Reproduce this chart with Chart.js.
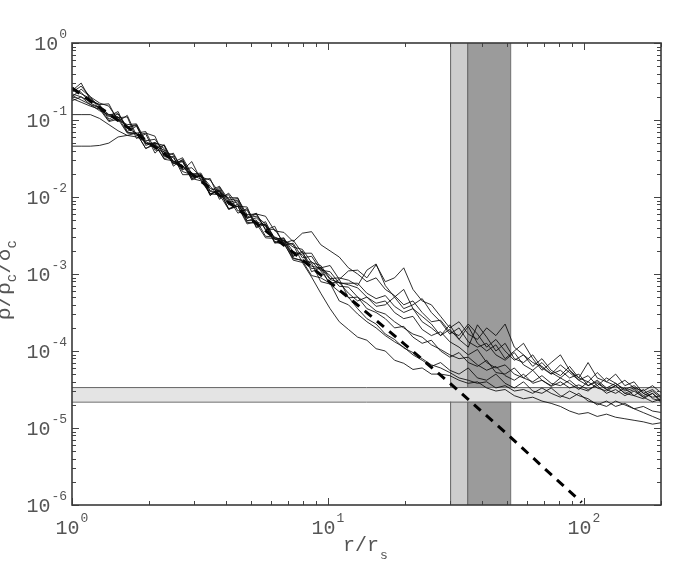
<!DOCTYPE html>
<html>
<head>
<meta charset="utf-8">
<script src="https://cdn.jsdelivr.net/npm/chart.js@4.4.1/dist/chart.umd.min.js"></script>
<style>
  html, body { margin: 0; padding: 0; background: #fff; }
  canvas { display: block; }
</style>
</head>
<body>
<canvas id="chart" width="691" height="571"></canvas>
<script>
// radius grid r/r_s shared by all profiles
const rGrid = [
  1.00, 1.086, 1.180, 1.282, 1.393, 1.514, 1.644, 1.786, 1.941, 2.109,
  2.291, 2.489, 2.704, 2.938, 3.192, 3.467, 3.767, 4.093, 4.446, 4.831,
  5.248, 5.702, 6.194, 6.730, 7.311, 7.943, 8.630, 9.376, 10.19, 11.07,
  12.02, 13.06, 14.19, 15.42, 16.75, 18.20, 19.77, 21.48, 23.33, 25.35,
  27.54, 29.92, 32.51, 35.32, 38.37, 41.69, 45.29, 49.20, 53.46, 58.08,
  63.10, 68.55, 74.47, 80.91, 87.90, 95.50, 103.8, 112.7, 122.5, 133.0,
  144.5, 157.0, 170.6, 185.4, 201.4
];

// log10 of rho/rho_c/delta_c
const logRhoA = [
  -0.62, -0.52, -0.74, -0.80, -0.79, -1.02, -0.94, -1.20, -1.17, -1.21,
  -1.48, -1.43, -1.65, -1.54, -1.78, -1.76, -2.03, -1.95, -2.10, -2.26,
  -2.21, -2.42, -2.42, -2.60, -2.56, -2.73, -2.73, -2.92, -2.89, -3.07,
  -2.96, -2.95, -3.05, -2.88, -3.10, -3.05, -2.92, -3.20, -3.35, -3.40,
  -3.55, -3.70, -3.62, -3.78, -3.85, -3.70, -3.80, -3.65, -3.95, -4.05,
  -4.15, -4.20, -4.30, -4.25, -4.35, -4.30, -4.45, -4.40, -4.50, -4.45,
  -4.55, -4.50, -4.60, -4.55, -4.65
];
const logRhoB = [
  -0.70, -0.60, -0.70, -0.86, -0.95, -0.89, -1.15, -1.08, -1.30, -1.36,
  -1.33, -1.60, -1.51, -1.76, -1.71, -1.98, -1.87, -2.07, -2.04, -2.27,
  -2.25, -2.35, -2.53, -2.56, -2.65, -2.68, -2.85, -2.89, -3.06, -3.05,
  -3.08, -3.15, -2.95, -2.87, -3.15, -3.30, -3.20, -3.45, -3.55, -3.65,
  -3.80, -3.72, -3.85, -3.68, -3.90, -4.00, -3.92, -4.10, -4.00, -3.90,
  -4.10, -4.25, -4.15, -4.05, -4.25, -4.35, -4.15, -4.35, -4.40, -4.30,
  -4.45, -4.40, -4.55, -4.50, -4.60
];
const logRhoC = [
  -0.66, -0.70, -0.76, -0.80, -0.99, -0.92, -1.11, -1.17, -1.15, -1.39,
  -1.41, -1.57, -1.52, -1.71, -1.74, -1.93, -1.93, -2.02, -2.21, -2.15,
  -2.36, -2.36, -2.55, -2.54, -2.71, -2.75, -2.93, -2.92, -3.07, -3.11,
  -3.14, -3.18, -3.30, -3.38, -3.35, -3.50, -3.58, -3.55, -3.72, -3.80,
  -3.75, -3.88, -3.95, -4.05, -3.98, -4.15, -4.22, -4.18, -4.30, -4.35,
  -4.25, -4.38, -4.45, -4.35, -4.42, -4.50, -4.40, -4.48, -4.52, -4.45,
  -4.55, -4.58, -4.50, -4.62, -4.65
];
const logRhoD = [
  -0.68, -0.74, -0.80, -0.88, -0.93, -0.96, -1.16, -1.17, -1.37, -1.32,
  -1.50, -1.47, -1.71, -1.71, -1.77, -1.96, -1.97, -2.16, -2.12, -2.33,
  -2.34, -2.53, -2.54, -2.59, -2.82, -2.85, -3.04, -3.25, -3.45, -3.62,
  -3.72, -3.82, -3.86, -3.97, -4.00, -4.12, -4.16, -4.24, -4.22, -4.30,
  -4.30, -4.32, -4.38, -4.42, -4.40, -4.48, -4.52, -4.50, -4.58, -4.62,
  -4.60, -4.65, -4.68, -4.72, -4.78, -4.82, -4.80, -4.85, -4.82, -4.86,
  -4.88, -4.90, -4.92, -4.95, -4.93
];
const logRhoE = [
  -1.34, -1.34, -1.34, -1.33, -1.30, -1.22, -1.20, -1.22, -1.28, -1.34,
  -1.39, -1.57, -1.54, -1.74, -1.73, -1.98, -1.89, -2.10, -2.06, -2.31,
  -2.27, -2.38, -2.58, -2.56, -2.77, -2.70, -2.97, -2.92, -3.14, -3.07,
  -3.31, -3.30, -3.45, -3.50, -3.58, -3.70, -3.68, -3.82, -3.90, -3.86,
  -4.00, -4.08, -4.02, -4.15, -4.20, -4.12, -4.28, -4.30, -4.22, -4.35,
  -4.40, -4.32, -4.42, -4.45, -4.38, -4.48, -4.52, -4.42, -4.50, -4.55,
  -4.48, -4.58, -4.62, -4.55, -4.68
];
const logRhoF = [
  -0.93, -0.93, -0.93, -0.98, -1.06, -1.14, -1.20, -1.17, -1.37, -1.30,
  -1.45, -1.49, -1.67, -1.71, -1.71, -1.96, -1.91, -2.16, -2.09, -2.31,
  -2.30, -2.51, -2.52, -2.57, -2.79, -2.83, -3.02, -3.05, -3.12, -3.35,
  -3.40, -3.52, -3.62, -3.70, -3.80, -3.88, -3.95, -4.05, -4.12, -4.20,
  -4.15, -4.25, -4.30, -4.22, -4.35, -4.38, -4.30, -4.42, -4.48, -4.40,
  -4.52, -4.55, -4.48, -4.58, -4.62, -4.55, -4.65, -4.68, -4.72, -4.65,
  -4.70, -4.75, -4.80, -4.85, -4.90
];
const logRhoG = [
  -0.60, -0.66, -0.72, -0.82, -0.93, -0.92, -1.09, -1.06, -1.31, -1.30,
  -1.33, -1.55, -1.49, -1.70, -1.69, -1.92, -1.86, -2.04, -2.02, -2.23,
  -2.22, -2.25, -2.44, -2.46, -2.58, -2.47, -2.45, -2.62, -2.70, -2.78,
  -2.92, -3.00, -3.10, -3.05, -3.20, -3.28, -3.40, -3.35, -3.50, -3.62,
  -3.60, -3.75, -3.80, -3.65, -3.78, -3.95, -3.85, -4.00, -4.12, -4.05,
  -4.20, -4.10, -4.25, -4.32, -4.20, -4.35, -4.40, -4.28, -4.40, -4.45,
  -4.38, -4.48, -4.52, -4.45, -4.55
];
const logRhoH = [
  -0.72, -0.77, -0.82, -0.86, -1.02, -0.99, -1.17, -1.18, -1.30, -1.31,
  -1.51, -1.53, -1.59, -1.76, -1.79, -1.96, -1.92, -2.15, -2.12, -2.35,
  -2.32, -2.37, -2.59, -2.61, -2.80, -2.82, -2.86, -3.10, -3.13, -3.23,
  -3.30, -3.45, -3.58, -3.65, -3.78, -3.85, -3.96, -4.02, -4.10, -4.18,
  -4.22, -4.28, -4.35, -4.38, -4.42, -4.40, -4.48, -4.45, -4.52, -4.50,
  -4.55, -4.48, -4.55, -4.60, -4.52, -4.58, -4.62, -4.70, -4.65, -4.72,
  -4.68, -4.75, -4.72, -4.78, -4.80
];
const logRhoI = [
  -0.64, -0.56, -0.70, -0.78, -0.82, -1.00, -1.06, -1.05, -1.27, -1.25,
  -1.42, -1.45, -1.64, -1.62, -1.74, -1.78, -1.95, -2.01, -2.01, -2.28,
  -2.22, -2.43, -2.38, -2.63, -2.60, -2.79, -2.77, -2.95, -2.97, -3.12,
  -3.12, -3.12, -3.25, -3.32, -3.28, -3.42, -3.50, -3.45, -3.62, -3.70,
  -3.80, -3.66, -3.85, -3.95, -3.66, -3.82, -4.00, -3.90, -4.10, -4.15,
  -4.05, -4.22, -4.30, -4.18, -4.28, -4.38, -4.32, -4.45, -4.35, -4.42,
  -4.50, -4.45, -4.55, -4.60, -4.58
];
const logRhoJ = [
  -0.58, -0.64, -0.78, -0.84, -0.95, -0.97, -0.96, -1.24, -1.18, -1.43,
  -1.32, -1.55, -1.54, -1.78, -1.71, -1.86, -2.00, -1.97, -2.18, -2.17,
  -2.39, -2.32, -2.55, -2.53, -2.77, -2.72, -2.90, -2.92, -3.02, -3.16,
  -3.17, -3.30, -3.38, -3.48, -3.52, -3.62, -3.70, -3.78, -3.82, -3.92,
  -3.98, -4.05, -4.10, -4.08, -4.18, -4.25, -4.20, -4.32, -4.38, -4.30,
  -4.42, -4.38, -4.46, -4.40, -4.48, -4.44, -4.50, -4.45, -4.55, -4.50,
  -4.58, -4.52, -4.60, -4.66, -4.62
];
const logRhoK = [
  -0.75, -0.70, -0.80, -0.84, -1.01, -0.96, -1.10, -1.07, -1.33, -1.29,
  -1.37, -1.54, -1.59, -1.74, -1.72, -1.89, -1.92, -2.10, -2.12, -2.13,
  -2.40, -2.35, -2.60, -2.57, -2.62, -2.85, -2.84, -2.96, -3.12, -3.11,
  -3.25, -3.35, -3.30, -3.42, -3.40, -3.30, -3.45, -3.40, -3.32, -3.50,
  -3.62, -3.78, -3.70, -3.88, -3.95, -3.90, -4.05, -4.12, -4.02, -4.18,
  -4.25, -4.15, -4.28, -4.35, -4.25, -4.38, -4.45, -4.38, -4.48, -4.42,
  -4.52, -4.48, -4.58, -4.52, -4.62
];
const profilesLog = [logRhoA, logRhoB, logRhoC, logRhoD, logRhoE, logRhoF,
                     logRhoG, logRhoH, logRhoI, logRhoJ, logRhoK];

// dashed fitted profile
const fitR   = [1, 1.5, 2, 3, 5, 7, 10, 15, 20, 30, 50, 70, 98];
const fitRho = [0.26, 0.101, 0.0508, 0.0188, 5.14e-3, 2.14e-3, 8.2e-4,
                2.7e-4, 1.21e-4, 3.8e-5, 8.4e-6, 3.0e-6, 1.08e-6];

// shaded regions
const bandLightR = [30, 35];
const bandDarkR  = [35, 51.5];
const bandFloorRho = [2.2e-5, 3.4e-5];

// axis ticks
const xDecades = [1, 10, 100];
const xExponents = ["0", "1", "2"];
const yDecades = [1e-6, 1e-5, 1e-4, 1e-3, 1e-2, 1e-1, 1];
const yExponents = ["-6", "-5", "-4", "-3", "-2", "-1", "0"];

const FONT = '"Liberation Mono", "DejaVu Sans Mono", monospace';
const TEXT = "#555";

const bandsPlugin = {
  id: "bands",
  beforeDatasetsDraw(chart) {
    const { ctx, chartArea: a, scales: { x, y } } = chart;
    ctx.save();
    ctx.lineWidth = 1;
    ctx.strokeStyle = "#666";
    const vband = (range, color) => {
      const x0 = x.getPixelForValue(range[0]), x1 = x.getPixelForValue(range[1]);
      ctx.fillStyle = color;
      ctx.fillRect(x0, a.top, x1 - x0, a.bottom - a.top);
      ctx.beginPath();
      ctx.moveTo(x0 + 0.5, a.top); ctx.lineTo(x0 + 0.5, a.bottom);
      ctx.moveTo(x1 + 0.5, a.top); ctx.lineTo(x1 + 0.5, a.bottom);
      ctx.stroke();
    };
    vband(bandLightR, "#cdcdcd");
    vband(bandDarkR, "#9b9b9b");
    const y0 = y.getPixelForValue(bandFloorRho[1]), y1 = y.getPixelForValue(bandFloorRho[0]);
    ctx.fillStyle = "#e4e4e4";
    ctx.fillRect(a.left, y0, a.right - a.left, y1 - y0);
    ctx.beginPath();
    ctx.moveTo(a.left, y0 + 0.5); ctx.lineTo(a.right, y0 + 0.5);
    ctx.moveTo(a.left, y1 + 0.5); ctx.lineTo(a.right, y1 + 0.5);
    ctx.stroke();
    ctx.restore();
  }
};

function drawPower(ctx, exp, x, y, align) {
  ctx.font = "20px " + FONT;
  const w1 = ctx.measureText("10").width;
  ctx.font = "13px " + FONT;
  const w2 = ctx.measureText(exp).width;
  let left;
  if (align === "right") left = x - w1 - w2 - 1;
  else left = x - (w1 + w2 + 1) / 2;
  ctx.textAlign = "left";
  ctx.textBaseline = "middle";
  ctx.font = "20px " + FONT;
  ctx.fillText("10", left, y);
  ctx.font = "13px " + FONT;
  ctx.fillText(exp, left + w1 + 1, y - 10);
}

const framePlugin = {
  id: "frame",
  afterDraw(chart) {
    const { ctx, chartArea: a, scales: { x, y } } = chart;
    ctx.save();
    ctx.strokeStyle = "#444";
    ctx.lineWidth = 1;
    ctx.beginPath();
    // inward ticks on all four sides
    for (const d of xDecades) {
      for (let m = 1; m <= 9; m++) {
        const v = d * m;
        if (v > 200) break;
        const px = Math.round(x.getPixelForValue(v)) + 0.5;
        const len = m === 1 ? 7 : 4;
        ctx.moveTo(px, a.bottom); ctx.lineTo(px, a.bottom - len);
        ctx.moveTo(px, a.top); ctx.lineTo(px, a.top + len);
      }
    }
    for (const d of yDecades) {
      for (let m = 1; m <= 9; m++) {
        const v = d * m;
        if (v > 1) break;
        const py = Math.round(y.getPixelForValue(v)) + 0.5;
        const len = m === 1 ? 7 : 4;
        ctx.moveTo(a.left, py); ctx.lineTo(a.left + len, py);
        ctx.moveTo(a.right, py); ctx.lineTo(a.right - len, py);
      }
    }
    ctx.stroke();
    ctx.lineWidth = 1.6;
    ctx.strokeStyle = "#3a3a3a";
    ctx.strokeRect(a.left, a.top, a.right - a.left, a.bottom - a.top);

    ctx.fillStyle = TEXT;
    xDecades.forEach((v, i) => drawPower(ctx, xExponents[i], x.getPixelForValue(v), a.bottom + 24, "center"));
    yDecades.forEach((v, i) => drawPower(ctx, yExponents[i], a.left - 5, y.getPixelForValue(v) + 2, "right"));

    // x title r/r_s
    ctx.textAlign = "left";
    ctx.textBaseline = "middle";
    ctx.font = "20px " + FONT;
    const tx = 343;
    ctx.fillText("r/r", tx, 546);
    const wr = ctx.measureText("r/r").width;
    ctx.font = "13px " + FONT;
    ctx.fillText("s", tx + wr + 1, 556);

    // y title rho/rho_c/delta_c, rotated, partly off the left edge
    ctx.translate(10, 320);
    ctx.rotate(-Math.PI / 2);
    ctx.textBaseline = "alphabetic";
    let cx = 0;
    const parts = [["ρ/ρ", 21, 0], ["c", 14, 6], ["/δ", 21, 0], ["c", 14, 6]];
    for (const [t, size, dy] of parts) {
      ctx.font = size + "px " + FONT;
      ctx.fillText(t, cx, dy);
      cx += ctx.measureText(t).width;
    }
    ctx.restore();
  }
};

const datasets = profilesLog.map((logs, i) => ({
  label: "profile " + (i + 1),
  data: logs.map((v, j) => ({ x: rGrid[j], y: Math.pow(10, v) })),
  borderColor: "rgba(10,10,10,0.85)",
  borderWidth: 1,
  pointRadius: 0,
  tension: 0
}));
datasets.push({
  label: "fit",
  data: fitR.map((r, j) => ({ x: r, y: fitRho[j] })),
  borderColor: "#000",
  borderWidth: 3,
  borderDash: [9, 7],
  pointRadius: 0,
  tension: 0
});

new Chart(document.getElementById("chart"), {
  type: "line",
  data: { datasets },
  options: {
    responsive: false,
    animation: false,
    devicePixelRatio: 1,
    layout: { padding: { left: 72, top: 43, right: 30, bottom: 66 } },
    plugins: { legend: { display: false }, tooltip: { enabled: false } },
    scales: {
      x: { type: "logarithmic", min: 1, max: 200, display: false },
      y: { type: "logarithmic", min: 1e-6, max: 1, display: false }
    }
  },
  plugins: [bandsPlugin, framePlugin]
});
</script>
</body>
</html>
